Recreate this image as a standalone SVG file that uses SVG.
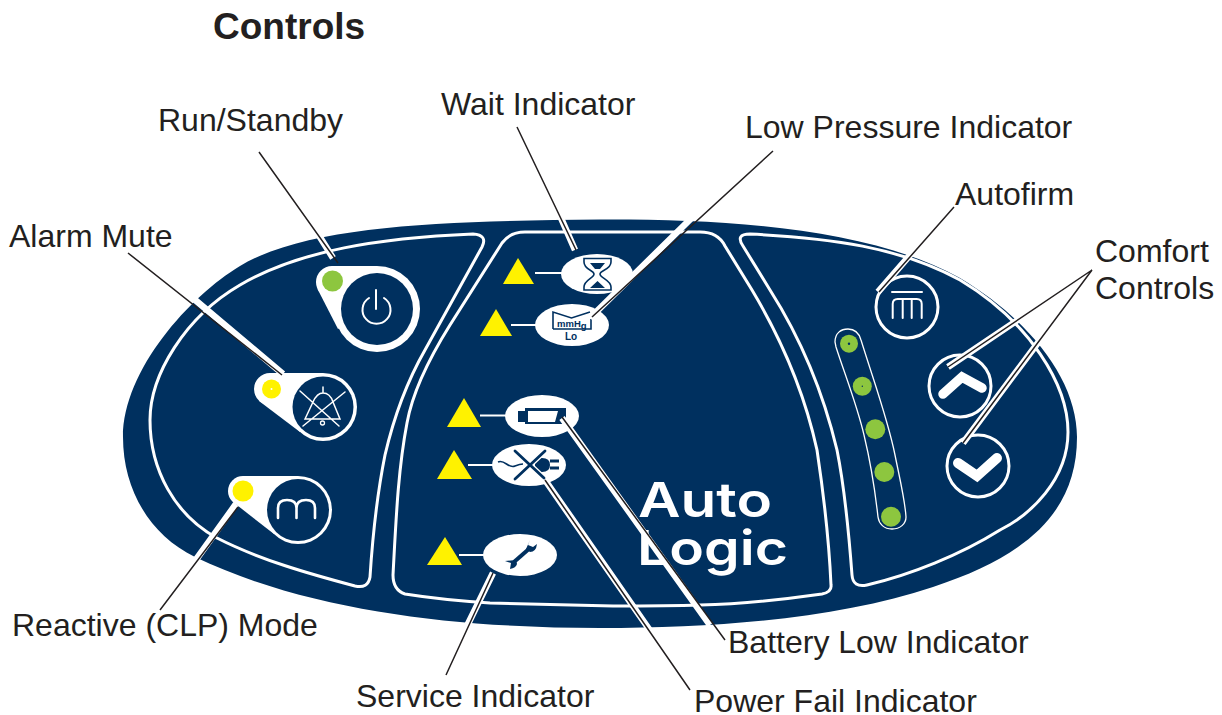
<svg xmlns="http://www.w3.org/2000/svg" width="1222" height="715" viewBox="0 0 1222 715">
<style>
.lbl{font-family:"Liberation Sans",Arial,sans-serif;font-size:32px;fill:#231f20}
.ttl{font-family:"Liberation Sans",Arial,sans-serif;font-size:37px;font-weight:bold;fill:#231f20}
.brand{font-family:Inter,"DejaVu Sans",sans-serif;font-size:48px;font-weight:600;fill:#fff}
.small{font-family:"Liberation Sans",Arial,sans-serif;font-weight:bold;fill:#00305f}
.ol{fill:none;stroke:#fff;stroke-width:3}
.w{fill:#fff}
.n{fill:#00305f}
.tri{fill:#fff200}
.stem{stroke:#fff;stroke-width:2;fill:none}
.icon{fill:none;stroke:#fff;stroke-width:2;stroke-linecap:round}
.nicon{fill:none;stroke:#00305f;stroke-width:1.6}
.led{fill:#8dc63f}
.yel{fill:#fff200}
.ring{fill:#00305f;stroke:#fff;stroke-width:3}
.halo{stroke:#fff;stroke-width:6.5;fill:none}
.line{stroke:#231f20;stroke-width:1.5;fill:none}
</style>
<text class="ttl" x="213" y="39">Controls</text>
<g id="panel">
<path class="n" d="M123 437C123 370 190 296 240 266C310 224 450 221 600 219.500C730 219 870 228 960 278C1030 320 1077 380 1077 437C1077 510 1030 555 933 587C840 618 720 628 600 628C460 628 310 612 195 557C150 535 123 490 123 437Z"/>
<path class="ol" d="M473 234C380 238 300 250 240 285C185 317 150 375 150 420C150 470 175 515 217 538C260 560 310 574 355 586Q368 589 370 577C373 530 378 490 385 455C392 425 405 385 425 350L482 247Q488 235 473 234Z"/>
<path class="ol" d="M525 232L700 232Q718 232 725 246L752 290C785 345 805 395 817 450C823 490 829 540 831 585Q832 592 822 594C780 600 740 604 700 605C670 606 640 606 613 606C570 605 530 604 490 603C460 601 430 598 405 594Q393 590 393 575C396 520 398 470 407 423C412 395 425 365 450 325L502 243Q510 232 525 232Z"/>
<path class="ol" d="M750 234C830 238 900 247 960 280C1030 322 1068 385 1068 432C1068 480 1030 515 1000 530C960 555 910 575 867 585Q853 588 852 575C849 535 845 490 837 450C825 400 805 345 770 290L743 246Q735 234 750 234Z"/>
<text class="brand" x="638" y="517" textLength="134" lengthAdjust="spacingAndGlyphs">Auto</text>
<text class="brand" x="637" y="565" textLength="151" lengthAdjust="spacingAndGlyphs">Logic</text>
</g>
<g id="run-standby">
<circle class="w" cx="377" cy="309" r="43"/>
<circle class="w" cx="332" cy="282" r="16"/>
<path class="w" d="M332 266H377V309L338 329L317.500 289Z"/>
<circle class="n" cx="377" cy="309" r="36"/>
<circle class="led" cx="332.500" cy="281" r="10.500"/>
<path class="icon" d="M369 298A14 14 0 1 0 384 298M376 290V309"/>
</g>
<g id="alarm-mute">
<circle class="w" cx="323" cy="407" r="34"/>
<circle class="w" cx="270" cy="389" r="16"/>
<path class="w" d="M270 373H323V407L300 432L259 401Z"/>
<circle class="n" cx="323" cy="407" r="30.500"/>
<circle class="yel" cx="271.500" cy="389" r="9.500"/>
<circle class="w" cx="271.500" cy="389" r="1"/>
<path class="icon" style="stroke-width:1.500" d="M323 387V393M305 419L313 402Q317 393 323 393Q330 393 333 402L340 419ZM300 391L339 426M345 392L303 426"/>
<circle cx="322.500" cy="423" r="2" fill="none" stroke="#fff" stroke-width="1.300"/>
</g>
<g id="reactive-mode">
<circle class="w" cx="298" cy="510" r="34"/>
<circle class="w" cx="243" cy="491" r="15"/>
<path class="w" d="M243 476H298V510L274 534L233 502Z"/>
<circle class="n" cx="298" cy="510" r="31"/>
<circle class="yel" cx="243" cy="491" r="10.500"/>
<path class="icon" style="stroke-width:2.600" d="M278 518V508Q278 500 287 500Q296.500 500 296.500 508V518M296.500 508Q296.500 500 306 500Q315 500 315 508V518"/>
</g>
<g id="wait-indicator">
<path class="tri" d="M518 258L503 284L534 284Z"/>
<path class="stem" d="M535 273H562"/>
<ellipse class="w" cx="597" cy="274" rx="36" ry="20"/>
<path class="nicon" d="M584 258.500H611V262C611 270 600 270 600 274C600 278 611 280 611 287V290H584V287C584 280 594 278 594 274C594 270 584 270 584 262Z"/>
<path class="n" d="M590 263H605L600 269H595ZM590 288L597.500 281L605 288Z"/>
</g>
<g id="low-pressure-indicator">
<path class="tri" d="M496 309L480 336L512 336Z"/>
<path class="stem" d="M511 325H537"/>
<ellipse class="w" cx="572" cy="325" rx="37" ry="21"/>
<path class="nicon" d="M553 329V312L571.500 318L590 312M591 319V329H553"/>
<text class="small" x="557" y="327" font-size="9.500">mmH<tspan dy="1.500">g</tspan></text>
<text class="small" x="565" y="340" font-size="10">Lo</text>
</g>
<g id="battery-low-indicator">
<path class="tri" d="M464 398L447 427L481 427Z"/>
<path class="stem" d="M480 415.500H507"/>
<ellipse class="w" cx="542" cy="416" rx="37" ry="21"/>
<path class="n" d="M525 408H566V424H525V422H518V411H525Z"/>
<path class="w" d="M528 411H558L555 422H528Z"/>
</g>
<g id="power-fail-indicator">
<path class="tri" d="M454 450L437 479L472 479Z"/>
<path class="stem" d="M468 465H494"/>
<ellipse class="w" cx="529" cy="465" rx="37" ry="21"/>
<path d="M498 462C505 459 508 469 515 466Q520 464 523 464" fill="none" stroke="#00305f" stroke-width="1.600"/>
<path d="M535 458H542Q550 458 550 465Q550 472 542 472H535ZM550 459.500H559V462.500H550ZM550 466.500H559V469.500H550Z" fill="#00305f"/>
<path d="M515 451L544 478M545 451L515 479" stroke="#fff" stroke-width="5.500" fill="none"/>
<path d="M515 451L544 478M545 451L515 479" stroke="#00305f" stroke-width="2.800" fill="none" stroke-linecap="round"/>
</g>
<g id="service-indicator">
<path class="tri" d="M445 537L427 565L462 565Z"/>
<path class="stem" d="M459 555H485"/>
<ellipse class="w" cx="520" cy="555" rx="37" ry="21"/>
<path d="M514 562L530 548" stroke="#00305f" stroke-width="4" fill="none"/>
<path d="M526 549L530 540L528 545L533 547L537 544Q536 552 530 552ZM516 560L505 561L511 563L510 569Q516 568 517 564Z" fill="#00305f"/>
</g>
<g id="autofirm">
<circle class="ring" cx="907" cy="307" r="31"/>
<path class="icon" d="M892 292H922"/>
<path class="icon" d="M892.700 318V304Q892.700 299 897.700 299H916.700Q921.700 299 921.700 304V318M902.700 318V299M911.700 318V299"/>
</g>
<g id="led-strip">
<path fill="none" stroke="#fff" stroke-width="1.300" d="M835 342C835 333 841 329 848 329C855 329 859 333 861 340C875 385 888 420 895 455C900 480 905 500 906 517C906 524 900 529 892 529C884 529 879 524 878 517C875 490 870 460 864 435C857 405 845 375 836 347Z"/>
<circle class="led" cx="849" cy="343.700" r="9"/>
<circle class="n" cx="849" cy="343.700" r="1.200"/>
<circle class="led" cx="862.300" cy="386.300" r="9.500"/>
<circle class="n" cx="862.300" cy="386.300" r="0.700"/>
<circle class="led" cx="875.300" cy="429.300" r="10"/>
<circle class="led" cx="884.300" cy="472" r="10"/>
<circle class="led" cx="891" cy="516.700" r="10"/>
</g>
<g id="comfort-up">
<circle class="ring" cx="960" cy="386" r="31"/>
<path d="M943 394L962 377L982 388" fill="none" stroke="#fff" stroke-width="9.500" stroke-linecap="round" stroke-linejoin="miter"/>
</g>
<g id="comfort-down">
<circle class="ring" cx="978" cy="466" r="31"/>
<path d="M958 463L977 476L997 458" fill="none" stroke="#fff" stroke-width="10" stroke-linecap="round" stroke-linejoin="miter"/>
</g>
<g id="connectors">
<path class="halo" d="M300 205L333 258M175 283L283 374M185 575L236 504M540 170L575 250M720 190L590 318M930 232L878 292M1040 305L948 367M1040 340L963 443M562 418L710 625M545 480L672 662M493 573L465 630"/>
<path class="line" d="M259 152L338 263M128 253L282 375M160 610L238 507M517 127L576 250M773 151L592 317M954 207L879 292M1092 270L948 367M1092 270L963 443M562 417L725 640M545 480L690 690M493 573L446 675"/>
</g>
<g id="labels">
<text class="lbl" x="158" y="131">Run/Standby</text>
<text class="lbl" x="441" y="115">Wait Indicator</text>
<text class="lbl" x="745" y="138">Low Pressure Indicator</text>
<text class="lbl" x="955" y="205">Autofirm</text>
<text class="lbl" x="1095" y="262">Comfort</text>
<text class="lbl" x="1095" y="299">Controls</text>
<text class="lbl" x="9" y="247">Alarm Mute</text>
<text class="lbl" x="12" y="636">Reactive (CLP) Mode</text>
<text class="lbl" x="356" y="707">Service Indicator</text>
<text class="lbl" x="728" y="653">Battery Low Indicator</text>
<text class="lbl" x="694" y="712">Power Fail Indicator</text>
</g>
</svg>
